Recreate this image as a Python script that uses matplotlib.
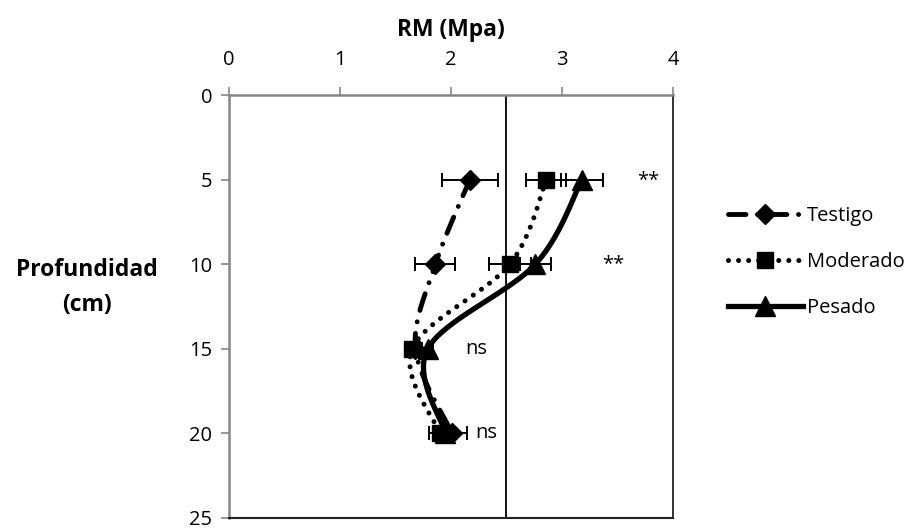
import numpy as np
import matplotlib
matplotlib.use("Agg")
import matplotlib.pyplot as plt
from matplotlib.lines import Line2D

plt.rcParams['font.family'] = ['Open Sans', 'DejaVu Sans']

# Depth (cm) and penetration resistance (MPa) per grazing treatment
depth = [5, 10, 15, 20]
testigo = [2.17, 1.86, 1.68, 2.01]
moderado = [2.86, 2.53, 1.65, 1.90]
pesado = [3.18, 2.76, 1.79, 1.95]
err_testigo = [0.25, 0.18, 0.05, 0.13]
err_moderado = [0.18, 0.19, 0.05, 0.10]
err_pesado = [0.19, 0.14, 0.05, 0.08]

xticks = [0, 1, 2, 3, 4]
yticks = [0, 5, 10, 15, 20, 25]
threshold = 2.5

# significance labels: (x, depth, text)
sig_labels = [(3.78, 5, '**'), (3.46, 10, '**'), (2.23, 15, 'ns'), (2.32, 20, 'ns')]

FS = 14.5
FS_LABEL = 16.5


def smooth(xs, ys, n=40):
    """Cubic Bezier smoothing through the points (Catmull-Rom control points)."""
    p = np.column_stack([xs, ys]).astype(float)
    ext = np.vstack([p[0], p, p[-1]])
    out = []
    t = np.linspace(0, 1, n)[:, None]
    for i in range(len(p) - 1):
        p0, p1 = ext[i + 1], ext[i + 2]
        c1 = p0 + (ext[i + 2] - ext[i]) / 6.0
        c2 = p1 - (ext[i + 3] - ext[i + 1]) / 6.0
        seg = ((1 - t) ** 3) * p0 + 3 * ((1 - t) ** 2) * t * c1 + 3 * (1 - t) * t ** 2 * c2 + t ** 3 * p1
        out.append(seg if i == 0 else seg[1:])
    s = np.vstack(out)
    return s[:, 0], s[:, 1]


fig = plt.figure(figsize=(9.16, 5.29), dpi=100)
ax = fig.add_axes([0.25, 0.0208, 0.4847, 0.7996])

series = [
    ('Testigo', testigo, err_testigo, 'D', 10, dict(linestyle=(0, (3.6, 2.4, 0.01, 2.4)), linewidth=3.5)),
    ('Moderado', moderado, err_moderado, 's', 12, dict(linestyle=(0, (0.01, 2.0)), linewidth=3.6)),
    ('Pesado', pesado, err_pesado, '^', 15, dict(linestyle='-', linewidth=3.8)),
]

handles = []
for name, vals, err, mk, ms, lstyle in series:
    sx, sy = smooth(vals, depth)
    ax.plot(sx, sy, color='black', dash_capstyle='round', solid_capstyle='butt', zorder=3, **lstyle)
    ax.errorbar(vals, depth, xerr=err, fmt='none', ecolor='black', elinewidth=1.4,
                capsize=5, capthick=1.4, zorder=4)
    ax.plot(vals, depth, linestyle='none', marker=mk, markersize=ms, color='black', zorder=5)
    handles.append(Line2D([], [], color='black', marker=mk, markersize=ms,
                          dash_capstyle='round', **lstyle))

ax.axvline(threshold, color='black', linewidth=1.3, zorder=2)

for x, y, txt in sig_labels:
    ax.text(x, y, txt, ha='center', va='center', fontsize=FS)

ax.set_xlim(0, 4)
ax.set_ylim(25, 0)
ax.set_xticks(xticks)
ax.set_yticks(yticks)
ax.xaxis.tick_top()
ax.xaxis.set_label_position('top')
ax.tick_params(axis='both', which='both', direction='out', length=6, width=1.2,
               color='#868686', labelsize=FS, pad=6)
ax.tick_params(axis='x', pad=12)

ax.spines['top'].set_color('#868686')
ax.spines['left'].set_color('#868686')
ax.spines['top'].set_linewidth(1.8)
ax.spines['left'].set_linewidth(1.8)
ax.spines['right'].set_color('#222222')
ax.spines['bottom'].set_color('#222222')
ax.spines['right'].set_linewidth(1.3)
ax.spines['bottom'].set_linewidth(1.5)

ax.set_xlabel('RM (Mpa)', fontsize=FS_LABEL, fontweight='bold', labelpad=10)
fig.text(0.095, 0.4565, 'Profundidad\n(cm)', ha='center', va='center',
         fontsize=FS_LABEL, fontweight='bold', linespacing=1.65)

fig.legend(handles=handles, labels=[s[0] for s in series], loc='center left',
           bbox_to_anchor=(0.775, 0.505), frameon=False, fontsize=FS,
           handlelength=3.7, handletextpad=0.2, labelspacing=1.3)

fig.savefig('out.png', dpi=100)
